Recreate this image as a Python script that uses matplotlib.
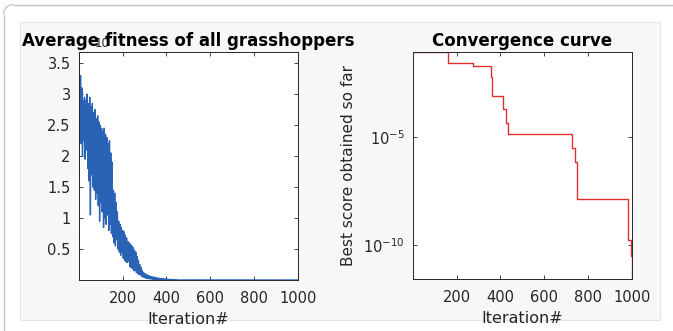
import matplotlib
matplotlib.use("Agg")
import matplotlib.pyplot as plt
from matplotlib.patches import Rectangle, Arc
from matplotlib.lines import Line2D
import numpy as np

# ---------------- data ----------------
# Left panel: average fitness (x 10^n), one reading every 3 iterations
avg_start_iter = [1]
avg_start_val = [0.7]
avg_iter_first = 2
avg_iter_step = 3
avg_vals = [
    3.68, 2.3, 3.3, 2.2, 3.1, 2.0, 2.9, 2.25, 2.95, 1.95,
    2.9, 2.1, 3.0, 1.8, 2.85, 1.6, 2.95, 1.05, 2.8, 1.7,
    2.85, 1.5, 2.7, 1.45, 2.75, 1.3, 2.6, 1.4, 2.65, 1.2,
    2.55, 0.95, 2.5, 1.25, 2.45, 1.1, 2.4, 0.85, 2.45, 1.0,
    2.35, 0.9, 2.3, 1.05, 2.2, 0.8, 2.25, 0.9, 2.05, 0.75,
    1.9, 0.7, 1.45, 0.6, 1.4, 0.55, 1.25, 0.65, 1.1, 0.5,
    0.95, 0.45, 0.9, 0.4, 0.85, 0.45, 0.8, 0.35, 0.78, 0.32,
    0.72, 0.3, 0.68, 0.28, 0.62, 0.3, 0.6, 0.22, 0.58, 0.2,
    0.55, 0.18, 0.52, 0.15, 0.48, 0.16, 0.45, 0.12, 0.38, 0.1,
    0.32, 0.09, 0.25, 0.08, 0.2, 0.06, 0.15, 0.05, 0.12, 0.04,
    0.1, 0.03, 0.09, 0.025, 0.08, 0.02, 0.07, 0.02, 0.06, 0.015,
    0.055, 0.012, 0.05, 0.01, 0.045, 0.01, 0.04, 0.008, 0.035, 0.007,
    0.03, 0.006, 0.028, 0.005, 0.025, 0.005, 0.022, 0.004, 0.02, 0.004,
    0.018, 0.003, 0.016, 0.003, 0.014, 0.002, 0.012, 0.002, 0.01, 0.002,
    0.009, 0.001, 0.008, 0.001, 0.007, 0.001, 0.006, 0.001, 0.005, 0.0,
]
avg_tail_iter = [500, 1000]
avg_tail_val = [0.001, 0.0]

# Right panel: convergence curve (best score), step changes
conv_iter = [1, 160, 274, 356, 360, 411, 424, 434, 726, 740, 748, 982, 995, 1000]
conv_val = [10**-1.06, 10**-1.56, 10**-1.71, 10**-2.22, 10**-3.10, 10**-3.70,
            10**-4.35, 10**-4.86, 10**-5.5, 10**-6.16, 10**-7.87,
            10**-9.77, 10**-10.5, 1e-13]

left_xticks = [200, 400, 600, 800, 1000]
left_yticks = [0.5, 1, 1.5, 2, 2.5, 3, 3.5]
left_yticklabels = ["0.5", "1", "1.5", "2", "2.5", "3", "3.5"]
right_xticks = [200, 400, 600, 800, 1000]
right_yticks = [1e-5, 1e-10]
right_yticklabels = ["$10^{-5}$", "$10^{-10}$"]

# ---------------- figure ----------------
W, H = 673, 331
fig = plt.figure(figsize=(W / 100, H / 100), dpi=100, facecolor="white")

# outer frame with a rounded top-left corner (pixel coords, origin bottom-left)
frame_col = "#c4c4c4"
r = 10
x0, ytop = 3.5, H - 4.5
fig.add_artist(Line2D([x0, x0], [0, ytop - r], transform=None, color=frame_col, lw=1.0, zorder=-20))
fig.add_artist(Line2D([x0 + r, W + 5], [ytop, ytop], transform=None, color=frame_col, lw=1.0, zorder=-20))
fig.add_artist(Arc((x0 + r, ytop - r), 2 * r, 2 * r, theta1=90, theta2=180,
                   transform=None, color=frame_col, lw=1.0, zorder=-20))
# inner (figure window) panel
fig.patches.append(Rectangle((20 / W, (H - 320) / H), (660 - 20) / W, (320 - 22) / H,
                             transform=fig.transFigure, facecolor="#f7f7f7",
                             edgecolor="#e6e6e6", lw=0.8, zorder=-10))

ax1 = fig.add_axes([79 / W, (H - 280) / H, 219 / W, 228 / H])
ax2 = fig.add_axes([413 / W, (H - 279) / H, 219 / W, 227 / H])

blue = "#2a62b6"
x_avg = (avg_start_iter
         + [avg_iter_first + avg_iter_step * i for i in range(len(avg_vals))]
         + avg_tail_iter)
y_avg = avg_start_val + avg_vals + avg_tail_val
ax1.plot(x_avg, y_avg, color=blue, lw=1.0)
ax1.set_xlim(1, 1000)
ax1.set_ylim(0, 3.68)
ax1.set_xticks(left_xticks)
ax1.set_yticks(left_yticks)
ax1.set_yticklabels(left_yticklabels)
ax1.set_xlabel("Iteration#", fontsize=11.5, color="#262626", labelpad=4)
ax1.text(0.07, 1.02, "10", transform=ax1.transAxes, fontsize=8.5,
         color="#262626", zorder=1)
ax1.set_title("Average fitness of all grasshoppers", fontsize=12,
              fontweight="bold", pad=4, zorder=5)

ax2.step(conv_iter, conv_val, where="post", color="#e2302f", lw=1.0)
ax2.set_yscale("log")
ax2.set_xlim(1, 1000)
ax2.set_ylim(10**-11.57, 10**-1.06)
ax2.set_xticks(right_xticks)
ax2.set_yticks(right_yticks)
ax2.set_yticklabels(right_yticklabels)
ax2.yaxis.set_minor_locator(matplotlib.ticker.NullLocator())
ax2.set_xlabel("Iteration#", fontsize=11.5, color="#262626", labelpad=4)
ax2.set_ylabel("Best score obtained so far", fontsize=11, color="#262626", labelpad=5)
ax2.set_title("Convergence curve", fontsize=12, fontweight="bold", pad=4)

for ax in (ax1, ax2):
    ax.set_facecolor("white")
    for s in ax.spines.values():
        s.set_color("#262626")
        s.set_linewidth(0.7)
    ax.tick_params(direction="in", top=True, right=True, length=3, width=0.6,
                   labelsize=10.5, colors="#262626")
    ax.tick_params(axis="x", pad=8)
    ax.tick_params(axis="y", pad=6)

fig.savefig("out.png", dpi=100, facecolor="white")
